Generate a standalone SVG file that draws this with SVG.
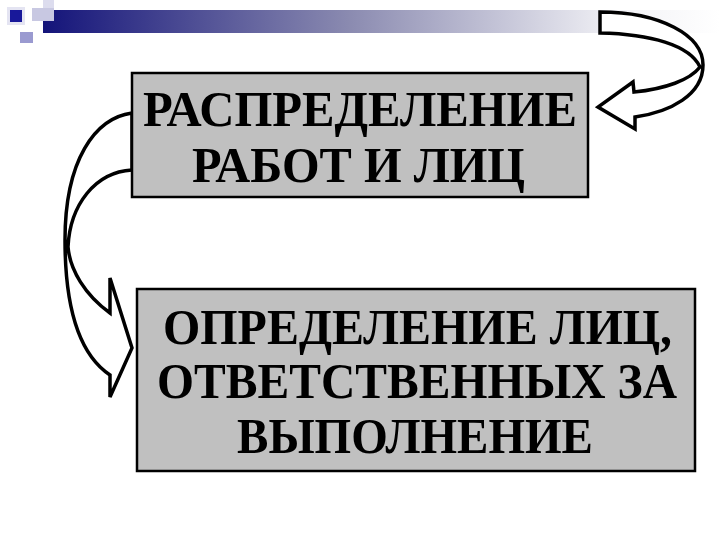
<svg xmlns="http://www.w3.org/2000/svg" width="720" height="540" viewBox="0 0 720 540">
<defs>
<linearGradient id="bar" x1="0" y1="0" x2="1" y2="0">
<stop offset="0" stop-color="#14147a"/>
<stop offset="0.45" stop-color="#8a8ab0"/>
<stop offset="0.85" stop-color="#f2f2f6"/>
<stop offset="1" stop-color="#ffffff"/>
</linearGradient>
<style>
.box{fill:#c0c0c0;stroke:#000;stroke-width:2.5}
.lbl{font-family:"Liberation Serif","Times New Roman",serif;font-weight:bold;font-size:50px;fill:#000;text-anchor:start}
.arr{fill:#fff;stroke:#000;stroke-width:3.5;stroke-linejoin:miter}
</style>
</defs>
<rect width="720" height="540" fill="#fff"/>
<g id="decor">
<rect x="43" y="10" width="677" height="23" fill="url(#bar)"/>
<rect x="32" y="8" width="22" height="13" fill="#c8c8e2"/>
<rect x="43" y="0" width="11" height="8" fill="#dcdcee"/>
<rect x="7" y="7" width="18" height="18" fill="#e4e4f2"/>
<rect x="10" y="10" width="12" height="12" fill="#18189a"/>
<rect x="20" y="32" width="13" height="11" fill="#9a9ad0"/>
</g>
<g id="connectors">
<path class="arr" d="M600,12 C660,12 703,35 703,65 C703,95 670,112 635,117 L635,129 L598,107 L633,82 L634,92 C665,89 690,80 700,67 C690,45 650,34 600,33 Z"/>
<path class="arr" d="M132,113 C95,118 65,160 65,240 C65,310 80,355 110,375 L110,397 L132,348 L110,278 L110,313 C85,295 70,270 68,247 C70,205 95,172 132,170 Z"/>
</g>
<g id="node1">
<rect class="box" x="132" y="73" width="456" height="124"/>
<text class="lbl" x="143" y="126" textLength="434" lengthAdjust="spacingAndGlyphs">РАСПРЕДЕЛЕНИЕ</text>
<text class="lbl" x="192" y="182" textLength="333" lengthAdjust="spacingAndGlyphs">РАБОТ И ЛИЦ</text>
</g>
<g id="node2">
<rect class="box" x="137" y="289" width="558" height="182"/>
<text class="lbl" x="163" y="344" textLength="509" lengthAdjust="spacingAndGlyphs">ОПРЕДЕЛЕНИЕ ЛИЦ,</text>
<text class="lbl" x="157" y="398" textLength="520" lengthAdjust="spacingAndGlyphs">ОТВЕТСТВЕННЫХ ЗА</text>
<text class="lbl" x="237" y="453" textLength="356" lengthAdjust="spacingAndGlyphs">ВЫПОЛНЕНИЕ</text>
</g>
</svg>
